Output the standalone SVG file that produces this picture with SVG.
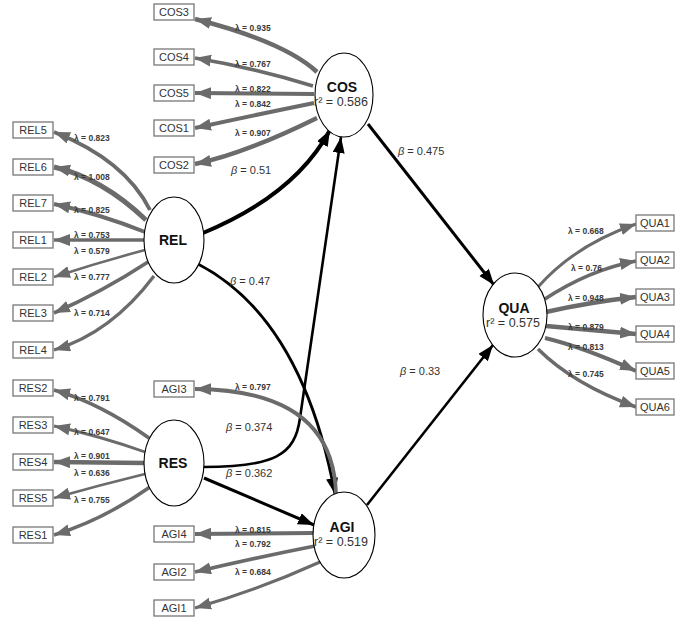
<svg xmlns="http://www.w3.org/2000/svg" width="700" height="621" viewBox="0 0 700 621">
<style>
.ind{fill:none;stroke:#6b6b6b;marker-end:url(#ga)}
.str{fill:none;stroke:#000;marker-end:url(#ba)}
.box{fill:#fff;stroke:#777;stroke-width:1.3}
.bt{font-family:"Liberation Sans",Arial,sans-serif;font-size:11px;fill:#333;text-anchor:middle}
.lam{font-family:"Liberation Sans",Arial,sans-serif;font-size:8.5px;font-weight:bold;fill:#3a3a3a}
.bet{font-family:"Liberation Sans",Arial,sans-serif;font-size:11px;fill:#333}
.lv{fill:#fff;stroke:#000;stroke-width:1.1}
.ln{font-family:"Liberation Sans",Arial,sans-serif;font-size:14px;font-weight:bold;fill:#111;text-anchor:middle}
.lr{font-family:"Liberation Sans",Arial,sans-serif;font-size:12.5px;fill:#333;text-anchor:middle}
</style>
<defs>
<marker id="ga" markerUnits="userSpaceOnUse" markerWidth="18" markerHeight="14" refX="16" refY="6" orient="auto">
<path d="M0,0 L16,6 L0,12 z" fill="#6b6b6b"/>
</marker>
<marker id="ba" markerUnits="userSpaceOnUse" markerWidth="18" markerHeight="14" refX="16" refY="6" orient="auto">
<path d="M0,0 L16,6 L0,12 z" fill="#000"/>
</marker>
</defs>
<rect width="700" height="621" fill="#fff"/>
<g id="connectors">
<!-- COS indicators -->
<path class="ind" stroke-width="4.6" d="M317,72 Q285,42 195,19"/>
<path class="ind" stroke-width="3.6" d="M313,86 Q255,68 195,58"/>
<path class="ind" stroke-width="3.9" d="M314,94 L195,93"/>
<path class="ind" stroke-width="4" d="M314,103 Q255,115 195,128"/>
<path class="ind" stroke-width="4.4" d="M317,118 Q244,154 195,164"/>
<!-- REL indicators -->
<path class="ind" stroke-width="3.9" d="M150,210 Q125,160 54,132"/>
<path class="ind" stroke-width="5" d="M146,220 Q102,178 54,167"/>
<path class="ind" stroke-width="3.9" d="M145,232 Q100,214 54,204"/>
<path class="ind" stroke-width="3.5" d="M145,240 L54,240"/>
<path class="ind" stroke-width="2.5" d="M145,250 Q100,262 54,277"/>
<path class="ind" stroke-width="3.7" d="M148,262 Q102,292 54,313"/>
<path class="ind" stroke-width="3.3" d="M154,276 Q111,333 54,350"/>
<!-- RES indicators -->
<path class="ind" stroke-width="3.7" d="M149,438 Q100,403 54,390"/>
<path class="ind" stroke-width="2.9" d="M145,452 Q100,436 54,426"/>
<path class="ind" stroke-width="4.4" d="M145,463 L54,462"/>
<path class="ind" stroke-width="2.8" d="M145,474 Q100,485 54,498"/>
<path class="ind" stroke-width="3.5" d="M150,487 Q103,520 54,535"/>
<!-- AGI indicators -->
<path class="ind" stroke-width="3.9" d="M314,533 L195,534"/>
<path class="ind" stroke-width="3.8" d="M315,546 Q254,558 195,572"/>
<path class="ind" stroke-width="3.1" d="M320,562 Q258,590 195,608"/>
<!-- QUA indicators -->
<path class="ind" stroke-width="3" d="M538,287 Q575,245 636,224"/>
<path class="ind" stroke-width="3.6" d="M545,299 Q589,270 636,261"/>
<path class="ind" stroke-width="4.7" d="M546,312 Q590,302 636,297"/>
<path class="ind" stroke-width="4.3" d="M546,326 Q590,330 636,334"/>
<path class="ind" stroke-width="3.9" d="M545,338 Q583,347 636,371"/>
<path class="ind" stroke-width="3.5" d="M538,349 Q573,384 636,407"/>
<!-- structural paths -->
<path class="str" stroke-width="4" d="M203,233 Q295,195 330,130"/>
<path class="str" stroke-width="2.6" d="M203,467 C275,467 295,455 300,418 L341,137"/>
<path class="str" stroke-width="3" d="M198,264 Q302,318 335,494"/>
<path class="str" stroke-width="3" d="M204,478 L314,525"/>
<path class="str" stroke-width="3" d="M368,124 L494,285"/>
<path class="str" stroke-width="2.6" d="M367,505 L493,345"/>
<path class="ind" stroke-width="3.8" d="M336,494 Q333,390 195,389"/>
</g>
<g id="labels">
<text class="lam" x="235" y="31">λ = 0.935</text>
<text class="lam" x="235" y="67">λ = 0.767</text>
<text class="lam" x="235" y="92">λ = 0.822</text>
<text class="lam" x="235" y="107">λ = 0.842</text>
<text class="lam" x="235" y="136">λ = 0.907</text>
<text class="lam" x="74" y="141">λ = 0.823</text>
<text class="lam" x="74" y="180">λ = 1.008</text>
<text class="lam" x="74" y="213">λ = 0.825</text>
<text class="lam" x="74" y="238">λ = 0.753</text>
<text class="lam" x="74" y="254">λ = 0.579</text>
<text class="lam" x="74" y="280">λ = 0.777</text>
<text class="lam" x="74" y="316">λ = 0.714</text>
<text class="lam" x="74" y="401">λ = 0.791</text>
<text class="lam" x="74" y="435">λ = 0.647</text>
<text class="lam" x="74" y="459">λ = 0.901</text>
<text class="lam" x="74" y="476">λ = 0.636</text>
<text class="lam" x="74" y="503">λ = 0.755</text>
<text class="lam" x="235" y="390">λ = 0.797</text>
<text class="lam" x="235" y="533">λ = 0.815</text>
<text class="lam" x="235" y="547">λ = 0.792</text>
<text class="lam" x="235" y="575">λ = 0.684</text>
<text class="lam" x="568" y="234">λ = 0.668</text>
<text class="lam" x="571" y="271">λ = 0.76</text>
<text class="lam" x="568" y="301">λ = 0.948</text>
<text class="lam" x="568" y="330">λ = 0.879</text>
<text class="lam" x="568" y="350">λ = 0.813</text>
<text class="lam" x="568" y="377">λ = 0.745</text>
<text class="bet" x="231" y="174"><tspan font-style="italic">β</tspan> = 0.51</text>
<text class="bet" x="230" y="285"><tspan font-style="italic">β</tspan> = 0.47</text>
<text class="bet" x="226" y="431"><tspan font-style="italic">β</tspan> = 0.374</text>
<text class="bet" x="226" y="477"><tspan font-style="italic">β</tspan> = 0.362</text>
<text class="bet" x="398" y="155"><tspan font-style="italic">β</tspan> = 0.475</text>
<text class="bet" x="400" y="375"><tspan font-style="italic">β</tspan> = 0.33</text>
</g>
<g id="COS"><ellipse class="lv" cx="344" cy="95" rx="29" ry="42"/><text class="ln" x="342" y="92">COS</text><text class="lr" x="341" y="106">r² = 0.586</text></g>
<g id="REL"><ellipse class="lv" cx="174" cy="240" rx="30" ry="43"/><text class="ln" x="173" y="245">REL</text></g>
<g id="RES"><ellipse class="lv" cx="174" cy="463" rx="30" ry="43"/><text class="ln" x="173" y="468">RES</text></g>
<g id="AGI"><ellipse class="lv" cx="344" cy="535" rx="31" ry="43"/><text class="ln" x="342" y="532">AGI</text><text class="lr" x="341" y="546">r² = 0.519</text></g>
<g id="QUA"><ellipse class="lv" cx="515" cy="315" rx="32" ry="42"/><text class="ln" x="514" y="313">QUA</text><text class="lr" x="513" y="327">r² = 0.575</text></g>
<g id="COS3"><rect class="box" x="154" y="4" width="40" height="16"/><text class="bt" x="174" y="16">COS3</text></g>
<g id="COS4"><rect class="box" x="154" y="49" width="40" height="16"/><text class="bt" x="174" y="61">COS4</text></g>
<g id="COS5"><rect class="box" x="154" y="85" width="40" height="16"/><text class="bt" x="174" y="97">COS5</text></g>
<g id="COS1"><rect class="box" x="154" y="120" width="40" height="16"/><text class="bt" x="174" y="132">COS1</text></g>
<g id="COS2"><rect class="box" x="154" y="157" width="40" height="16"/><text class="bt" x="174" y="169">COS2</text></g>
<g id="REL5"><rect class="box" x="13" y="122" width="40" height="16"/><text class="bt" x="33" y="134">REL5</text></g>
<g id="REL6"><rect class="box" x="13" y="159" width="40" height="16"/><text class="bt" x="33" y="171">REL6</text></g>
<g id="REL7"><rect class="box" x="13" y="195" width="40" height="16"/><text class="bt" x="33" y="207">REL7</text></g>
<g id="REL1"><rect class="box" x="13" y="232" width="40" height="16"/><text class="bt" x="33" y="244">REL1</text></g>
<g id="REL2"><rect class="box" x="13" y="269" width="40" height="16"/><text class="bt" x="33" y="281">REL2</text></g>
<g id="REL3"><rect class="box" x="13" y="305" width="40" height="16"/><text class="bt" x="33" y="317">REL3</text></g>
<g id="REL4"><rect class="box" x="13" y="342" width="40" height="16"/><text class="bt" x="33" y="354">REL4</text></g>
<g id="RES2"><rect class="box" x="13" y="380" width="40" height="16"/><text class="bt" x="33" y="392">RES2</text></g>
<g id="RES3"><rect class="box" x="13" y="417" width="40" height="16"/><text class="bt" x="33" y="429">RES3</text></g>
<g id="RES4"><rect class="box" x="13" y="454" width="40" height="16"/><text class="bt" x="33" y="466">RES4</text></g>
<g id="RES5"><rect class="box" x="13" y="490" width="40" height="16"/><text class="bt" x="33" y="502">RES5</text></g>
<g id="RES1"><rect class="box" x="13" y="527" width="40" height="16"/><text class="bt" x="33" y="539">RES1</text></g>
<g id="AGI3"><rect class="box" x="154" y="381" width="40" height="16"/><text class="bt" x="174" y="393">AGI3</text></g>
<g id="AGI4"><rect class="box" x="154" y="526" width="40" height="16"/><text class="bt" x="174" y="538">AGI4</text></g>
<g id="AGI2"><rect class="box" x="154" y="564" width="40" height="16"/><text class="bt" x="174" y="576">AGI2</text></g>
<g id="AGI1"><rect class="box" x="154" y="600" width="40" height="16"/><text class="bt" x="174" y="612">AGI1</text></g>
<g id="QUA1"><rect class="box" x="636" y="215" width="38" height="16"/><text class="bt" x="655" y="227">QUA1</text></g>
<g id="QUA2"><rect class="box" x="636" y="252" width="38" height="16"/><text class="bt" x="655" y="264">QUA2</text></g>
<g id="QUA3"><rect class="box" x="636" y="289" width="38" height="16"/><text class="bt" x="655" y="301">QUA3</text></g>
<g id="QUA4"><rect class="box" x="636" y="326" width="38" height="16"/><text class="bt" x="655" y="338">QUA4</text></g>
<g id="QUA5"><rect class="box" x="636" y="363" width="38" height="16"/><text class="bt" x="655" y="375">QUA5</text></g>
<g id="QUA6"><rect class="box" x="636" y="399" width="38" height="16"/><text class="bt" x="655" y="411">QUA6</text></g>
</svg>
